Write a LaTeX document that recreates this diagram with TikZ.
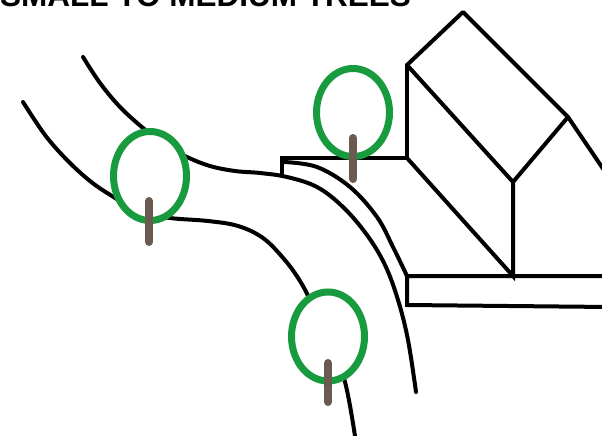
\documentclass[tikz,border=0pt]{standalone}
\usepackage{fontspec}
\setmainfont{Liberation Sans}
\definecolor{leafgreen}{HTML}{189A3F}
\definecolor{barkbrown}{HTML}{6B5A50}
\tikzset{
  edge/.style={line width=4pt, line cap=round, line join=miter, black},
  crown/.style={line width=7pt, draw=leafgreen, fill=white},
  trunk/.style={line width=8pt, line cap=round, draw=barkbrown},
}
\begin{document}
\begin{tikzpicture}[x=1pt, y=-1pt]
  \useasboundingbox (0,0) rectangle (602,436);
  \clip (0,0) rectangle (602,436);

  % heading
  \node[anchor=base west, inner sep=0] (title) at (0,7)
    {\fontsize{31.5}{32}\selectfont\bfseries SMALL TO MEDIUM TREES};

  % road edges
  \draw[edge] plot[smooth, tension=0.6] coordinates {
    (83,57) (100,83) (120,107) (143,128) (165,145) (187,157) (210,166)
    (235,171) (260,173) (287,177) (317,187) (343,207) (367,235) (385,265)
    (398,300) (408,340) (416,392)};
  \draw[edge] plot[smooth, tension=0.6] coordinates {
    (23,102) (45,135) (67,160) (90,181) (112,196) (140,212) (170,218)
    (208,221) (238,226) (263,238) (284,259) (300,281) (313,306) (330,345)
    (345,382) (355,436)};
  % curb in front of the building
  \draw[edge] plot[smooth, tension=0.6] coordinates {
    (284,162) (317,167) (350,187) (377,217) (393,247) (407,276)};

  % building
  \coordinate (peak) at (463,12);
  \coordinate (eaveL) at (407,65);
  \coordinate (eaveR) at (568,117);
  \coordinate (ridge) at (513,182);
  \coordinate (wallL) at (407,158);
  \coordinate (foot) at (513,276);
  \draw[edge, line join=round] (eaveL) -- (peak) -- (eaveR) -- (ridge) -- cycle;
  \draw[edge] (eaveR) -- (610,179);
  \draw[edge] (282,175) -- (282,158) -- (wallL) -- (eaveL);
  \draw[edge] (wallL) -- (foot) -- (ridge);
  \draw[edge] (610,276) -- (407,276) -- (407,305) -- (610,307);

  % trees
  \draw[crown] (150,176) ellipse [x radius=36.5, y radius=44.5];
  \draw[trunk] (149,201) -- (149,242);
  \draw[crown] (353,112.5) ellipse [x radius=36.5, y radius=44];
  \draw[trunk] (353,138) -- (353,179);
  \draw[crown] (328,336.5) ellipse [x radius=36.5, y radius=44.5];
  \draw[trunk] (328,363) -- (328,402);
\end{tikzpicture}
\end{document}
